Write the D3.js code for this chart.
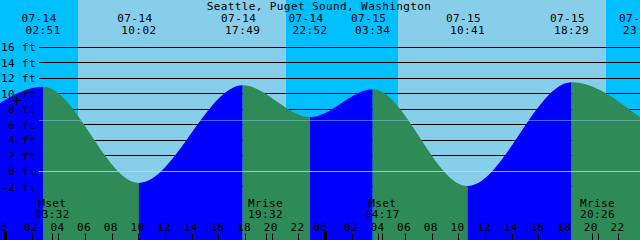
<!DOCTYPE html>
<html>
<head>
<meta charset="utf-8" />
<title>Seattle, Puget Sound, Washington</title>
<style>
    body { margin: 0; background: #fff; }
    svg { display: block; }
    text { font-family: "DejaVu Sans Mono", monospace; font-size: 11px; letter-spacing: 0.4px; fill: #000; }
</style>
</head>
<body>
<div id="container"></div>
<script src="https://cdn.jsdelivr.net/npm/d3@7/dist/d3.min.js"></script>
<script>
    const title = 'Seattle, Puget Sound, Washington'

    // high / low water, local time and feet
    const tideTimes = ['07-13 22:06', '07-14 02:51', '07-14 10:02', '07-14 17:49', '07-14 22:52',
                       '07-15 03:34', '07-15 10:41', '07-15 18:29', '07-15 23:40']
    const tideHeights = [7.0, 10.9, -1.5, 11.1, 7.0, 10.6, -1.9, 11.5, 6.9]

    const sunriseTimes = ['07-14 05:27', '07-15 05:27']
    const sunsetTimes = ['07-14 21:04', '07-15 21:05']

    const moonNames = ['Mset', 'Mrise', 'Mset', 'Mrise']
    const moonTimes = ['07-14 03:32', '07-14 19:32', '07-15 04:17', '07-15 20:26']

    const levelTicks = [-2, 0, 2, 4, 6, 8, 10, 12, 14, 16]
    const meanSeaLevel = 6.6
    const nowTime = '07-14 00:47'
    const nowLevel = 9.2

    const width = 640
    const height = 240

    const parse = d3.utcParse('%m-%d %H:%M')
    const start = parse('07-13 23:37')
    const end = parse('07-15 23:37')

    const xScale = d3.scaleUtc().domain([start, end]).range([0, width])
    const yScale = d3.scaleLinear().domain([-2, 16]).range([186.8, 47.3])

    const tides = tideTimes.map((t, i) => ({ t: parse(t), h: tideHeights[i] }))

    let svg = d3.select('#container').append('svg').attr('width', width).attr('height', height)

    // day / night background
    svg.append('rect').attr('width', width).attr('height', height).attr('fill', '#87ceeb')
    const nights = [
        [start, parse(sunriseTimes[0])],
        [parse(sunsetTimes[0]), parse(sunriseTimes[1])],
        [parse(sunsetTimes[1]), end]
    ]
    svg.selectAll('rect.night').data(nights).enter().append('rect')
        .attr('class', 'night')
        .attr('x', d => xScale(d[0]))
        .attr('width', d => xScale(d[1]) - xScale(d[0]))
        .attr('y', 0).attr('height', height)
        .attr('fill', '#00bfff')
        .attr('shape-rendering', 'crispEdges')

    // level lines behind the water
    svg.selectAll('line.level').data(levelTicks.filter(v => v !== 0)).enter().append('line')
        .attr('class', 'level')
        .attr('x1', 39).attr('x2', width)
        .attr('y1', d => yScale(d)).attr('y2', d => yScale(d))
        .attr('stroke', '#000').attr('shape-rendering', 'crispEdges')

    // water, blue while rising and green while falling
    const area = d3.area()
        .x(d => xScale(d.t))
        .y0(height)
        .y1(d => yScale(d.h))
        .curve(d3.curveMonotoneX)

    const segments = d3.pairs(tides)
    const defs = svg.append('defs')
    segments.forEach((s, i) => {
        defs.append('clipPath').attr('id', 'seg' + i)
            .append('rect')
            .attr('x', xScale(s[0].t)).attr('width', xScale(s[1].t) - xScale(s[0].t))
            .attr('y', 0).attr('height', height)
        svg.append('path')
            .datum(tides)
            .attr('d', area)
            .attr('clip-path', `url(#seg${i})`)
            .attr('fill', s[1].h > s[0].h ? '#0000ff' : '#2e8b57')
    })

    // datum and mean sea level
    svg.append('line')
        .attr('x1', 39).attr('x2', width)
        .attr('y1', yScale(0)).attr('y2', yScale(0))
        .attr('stroke', 'rgba(150,232,240,0.8)').attr('shape-rendering', 'crispEdges')
    svg.append('line')
        .attr('x1', 39).attr('x2', width)
        .attr('y1', yScale(meanSeaLevel)).attr('y2', yScale(meanSeaLevel))
        .attr('stroke', 'rgba(135,206,235,0.5)').attr('shape-rendering', 'crispEdges')

    // level labels
    svg.selectAll('text.level').data(levelTicks).enter().append('text')
        .attr('class', 'level')
        .attr('x', 36).attr('y', d => yScale(d)).attr('dy', '0.36em')
        .attr('text-anchor', 'end')
        .text(d => `${d} ft`)

    // now marker
    const nx = Math.round(xScale(parse(nowTime))) + 0.5
    const ny = Math.round(yScale(nowLevel)) + 0.5
    svg.append('path')
        .attr('d', `M${nx - 4},${ny}H${nx + 5}M${nx},${ny - 4}V${ny + 4}`)
        .attr('stroke', '#000').attr('fill', 'none')

    // title and tide event labels
    svg.append('text').attr('x', 319).attr('y', 10).attr('text-anchor', 'middle').text(title)

    const shown = tides.filter(d => d.t > start)
    svg.selectAll('text.date').data(shown).enter().append('text')
        .attr('x', d => xScale(d.t) - 4).attr('y', 22)
        .attr('text-anchor', 'middle')
        .text(d => d3.utcFormat('%m-%d')(d.t))
    svg.selectAll('text.time').data(shown).enter().append('text')
        .attr('x', d => xScale(d.t)).attr('y', 34)
        .attr('text-anchor', 'middle')
        .text(d => d3.utcFormat('%H:%M')(d.t))

    // moon events
    const moon = moonTimes.map((t, i) => ({ t: parse(t), name: moonNames[i] }))
    svg.selectAll('text.moon').data(moon).enter().append('text')
        .attr('x', d => xScale(d.t)).attr('y', 206.5)
        .attr('text-anchor', 'middle')
        .text(d => d.name)
    svg.selectAll('text.moontime').data(moon).enter().append('text')
        .attr('x', d => xScale(d.t)).attr('y', 217.5)
        .attr('text-anchor', 'middle')
        .text(d => d3.utcFormat('%H:%M')(d.t))

    // hour axis
    const hours = d3.utcHour.every(2).range(start, end)
    svg.selectAll('text.hour').data(hours).enter().append('text')
        .attr('x', d => xScale(d) - (d.getUTCHours() === 0 ? 4.5 : 1))
        .attr('y', 230.5)
        .attr('text-anchor', 'middle')
        .text(d => d3.utcFormat('%H')(d))
    svg.selectAll('line.hour').data(hours.concat(moon.map(d => d.t))).enter().append('line')
        .attr('x1', d => Math.round(xScale(d)) + 0.5).attr('x2', d => Math.round(xScale(d)) + 0.5)
        .attr('y1', d => d.getUTCHours() === 0 && d.getUTCMinutes() === 0 ? 231.5 : 233.5).attr('y2', height)
        .attr('stroke', '#000')
        .attr('stroke-width', d => d.getUTCHours() === 0 && d.getUTCMinutes() === 0 ? 3 : 1)
</script>
</body>
</html>
